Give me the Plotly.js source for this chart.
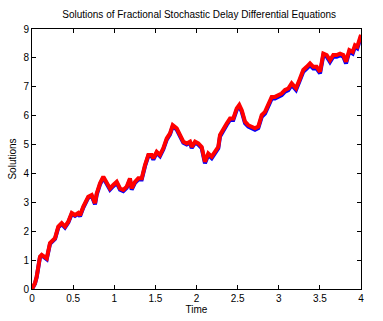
<!DOCTYPE html>
<html><head><meta charset="utf-8">
<script src="https://cdn.plot.ly/plotly-3.0.1.min.js"></script>
<style>body{margin:0;background:#fff}#c{width:383px;height:321px}</style>
</head><body><div id="c"></div>
<script>
const time = [0,0.016,0.036,0.057,0.079,0.097,0.118,0.158,0.179,0.219,0.259,0.280,0.320,0.361,0.401,0.441,0.483,0.523,0.563,0.584,0.624,0.684,0.726,0.766,0.787,0.827,0.867,0.908,0.948,0.988,1.030,1.070,1.110,1.151,1.191,1.212,1.252,1.292,1.334,1.374,1.414,1.455,1.475,1.516,1.556,1.596,1.638,1.678,1.711,1.759,1.799,1.840,1.881,1.921,1.942,1.982,2.022,2.063,2.103,2.143,2.185,2.225,2.265,2.286,2.326,2.367,2.407,2.447,2.489,2.520,2.550,2.590,2.630,2.671,2.711,2.751,2.793,2.833,2.873,2.914,2.954,2.995,3.036,3.076,3.116,3.157,3.210,3.250,3.298,3.340,3.380,3.420,3.461,3.502,3.542,3.583,3.623,3.663,3.704,3.745,3.785,3.818,3.858,3.899,3.927,3.955,3.979,4.0];
const solutionRed = [0,0.08,0.2,0.43,0.8,1.12,1.18,1.12,1.06,1.59,1.7,1.76,2.16,2.28,2.16,2.33,2.63,2.56,2.63,2.55,2.85,3.19,3.25,2.97,3.31,3.66,3.89,3.66,3.48,3.6,3.71,3.48,3.43,3.54,3.83,3.48,3.71,3.83,3.83,4.29,4.64,4.64,4.52,4.75,4.64,4.87,5.21,5.39,5.67,5.56,5.33,5.1,5.04,5.1,4.92,5.1,5.04,4.92,4.4,4.69,4.58,4.75,4.92,5.33,5.56,5.73,5.9,5.9,6.25,6.37,6.19,5.79,5.67,5.62,5.56,5.62,6.02,6.13,6.43,6.65,6.65,6.71,6.77,6.89,6.94,7.12,6.95,7.23,7.58,7.69,7.81,7.69,7.69,7.52,8.15,8.1,7.92,8.1,8.1,8.15,8.1,7.87,8.27,8.21,8.44,8.39,8.69,8.8];
const solutionBlue = [0,0.07,0.18,0.41,0.78,1.1,1.16,1.1,1.03,1.56,1.67,1.73,2.13,2.25,2.13,2.3,2.6,2.53,2.6,2.52,2.82,3.16,3.22,2.93,3.27,3.62,3.85,3.62,3.44,3.56,3.67,3.44,3.39,3.5,3.79,3.44,3.67,3.79,3.79,4.25,4.6,4.6,4.48,4.71,4.6,4.83,5.17,5.35,5.63,5.52,5.29,5.06,5.0,5.06,4.88,5.06,5.0,4.88,4.35,4.64,4.53,4.7,4.87,5.28,5.51,5.68,5.85,5.85,6.2,6.32,6.14,5.74,5.62,5.57,5.51,5.57,5.96,6.07,6.37,6.59,6.59,6.65,6.71,6.83,6.88,7.06,6.89,7.17,7.52,7.63,7.75,7.63,7.63,7.46,8.09,8.04,7.86,8.04,8.04,8.09,8.04,7.81,8.21,8.15,8.38,8.33,8.63,8.74];
const xTicks = [0,0.5,1,1.5,2,2.5,3,3.5,4];
const yTicks = [0,1,2,3,4,5,6,7,8,9];

const fnt = {family:'Liberation Sans, Arial, sans-serif', size:10, color:'#000'};
const axisBase = {showgrid:false, zeroline:false, showline:true, linecolor:'#000', linewidth:1,
  mirror:'ticks', ticks:'inside', ticklen:4, tickcolor:'#000', tickfont:fnt};
Plotly.newPlot('c', [
  {x:time, y:solutionBlue, mode:'lines', line:{color:'#0000ff', width:4}, hoverinfo:'skip'},
  {x:time, y:solutionRed, mode:'lines', line:{color:'#ff0000', width:4}, hoverinfo:'skip'}
], {
  width:383, height:321,
  margin:{l:32, r:22, t:29, b:32},
  paper_bgcolor:'#fff', plot_bgcolor:'#fff',
  showlegend:false, font:fnt,
  title:{text:'Solutions of Fractional Stochastic Delay Differential Equations', font:{...fnt, size:10}, x:0.52, xanchor:'center', y:0.955, yanchor:'middle'},
  xaxis:{...axisBase, range:[0,4], tickvals:xTicks, ticktext:xTicks.map(String),
    title:{text:'Time', font:fnt, standoff:2}},
  yaxis:{...axisBase, range:[0,9], tickvals:yTicks, ticktext:yTicks.map(String),
    title:{text:'Solutions', font:fnt, standoff:4}}
}, {staticPlot:true});
</script></body></html>
